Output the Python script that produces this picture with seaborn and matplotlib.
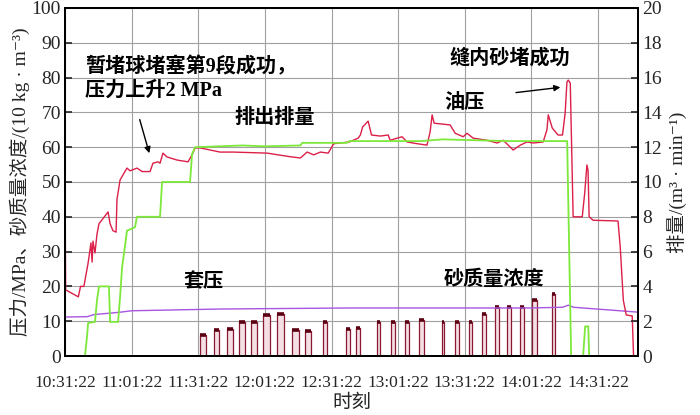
import matplotlib
matplotlib.use('Agg')
import matplotlib.pyplot as plt
import numpy as np
import pandas as pd
import seaborn as sns

# time axis: minutes after 10:31:22
tick_minutes = [0, 30, 60, 90, 120, 150, 180, 210, 240]
tick_labels = ['10:31:22', '11:01:22', '11:31:22', '12:01:22', '12:31:22',
               '13:01:22', '13:31:22', '14:01:22', '14:31:22']

# tubing pressure (油压), MPa
oil_t = [0, 0.3, 6, 7, 8.5, 10.4, 11.7, 12.2, 12.6, 13.5, 14.4, 15.3, 19.4, 20.3, 21.6, 23,
         23.4, 24.8, 27.9, 29.3, 32.4, 34.7, 38.3, 39.6, 41.9, 42.8, 44.1, 45.9, 50.5, 55.4,
         57.2, 58.6, 60.8, 69.8, 75.7, 91, 101, 106, 109, 112, 115, 118.5, 121, 128, 132,
         133, 134, 136.5, 138, 142, 145.5, 146.4, 151.8, 154, 158.6, 163, 164.4, 165.3, 166.2,
         173.4, 175.7, 179.3, 181, 183.8, 190, 194.6, 197.3, 201.8, 205, 208, 210.8, 215.3,
         217, 217.6, 219.4, 222, 224, 225.2, 226, 226.6, 227.5, 228.8, 232.9, 234, 235,
         235.5, 236, 237.8, 249, 250, 251.4, 252.7, 255.4, 256]
oil_p = [50, 19, 17, 20, 20, 26.7, 32.5, 27, 33, 29.6, 35, 38, 41.4, 38, 36, 35.6,
         45, 50.6, 54, 53.2, 54, 53, 53, 55.4, 55.8, 55.4, 58.3, 57.2, 56.3, 55.8,
         57.8, 59.8, 59.8, 58.6, 58.6, 58.3, 57.3, 56.9, 58.6, 57.8, 58.6, 58.3, 61, 61.5, 62.6,
         63.5, 65.8, 67.5, 63.5, 63.2, 63.5, 62, 63, 61.5, 61, 60.6, 64.4, 69.3, 66.9,
         66.4, 64, 63, 64, 62.6, 62, 61.2, 62, 59.2, 60.6, 61.5, 61.2, 61.5,
         65, 69.3, 65.5, 63.5, 63.5, 69.8, 78.7, 79.3, 78.4, 40, 40, 46.8, 54.9,
         53.4, 40, 39, 38.8, 31.3, 16, 11.8, 11.5, 0]

# casing pressure (套压), MPa
casing_t = [0, 10, 13, 20, 25, 30, 70, 128, 209, 224, 226.6, 229, 258]
casing_p = [11.2, 11.3, 11.9, 12.3, 12.6, 13, 13.5, 13.8, 13.8, 14, 14.6, 14, 12.6]

# pump rate (排量), m3/min
rate_t = [9, 9.9, 10.4, 13.5, 14.4, 15.3, 19.8, 20.3, 23.9, 24.8, 25.7, 27, 27.9, 31.5,
          32.4, 42.8, 43.7, 56.3, 57.2, 58.6, 80, 90, 106, 106.8, 127, 128, 160, 170, 200,
          226.1, 227.9, 233.3, 234.2, 235.6, 236]
rate_q = [0, 1.1, 1.9, 1.96, 3.2, 4, 4, 1.96, 1.96, 3.4, 5.1, 6.3, 7.2, 7.4,
          8, 8, 10, 10, 11.6, 12.0, 12.1, 12.05, 12.1, 12.25, 12.25, 12.35, 12.35, 12.45, 12.35,
          12.35, 0, 0, 1.7, 1.7, 0]

# sand concentration pulses (砂质量浓度), 10 kg/m3
sand_start = [60.8, 67.1, 73.0, 78.4, 83.8, 89.2, 95.5, 102.3, 108.1, 116.2, 126.6, 131.1, 140.5,
              146.8, 153.2, 159.5, 169.8, 175.7, 182.0, 187.8, 193.7, 199.1, 205.0, 210.4, 219.4]
sand_end = [63.5, 69.4, 75.7, 81.1, 86.5, 92.3, 98.6, 105.4, 110.8, 118.0, 128.4, 132.9, 141.9,
            148.6, 155.0, 161.7, 170.7, 177.5, 183.3, 189.6, 195.5, 200.9, 206.8, 212.6, 220.7]
sand_peak = [6.0, 7.5, 7.8, 9.8, 9.7, 11.8, 12.0, 7.5, 7.3, 9.8, 7.8, 8.0, 9.8,
             9.8, 9.8, 10.3, 9.8, 9.8, 9.8, 12.0, 14.0, 14.2, 14.2, 16.0, 17.8]

sns.set_theme(style='white')
plt.rcParams['font.family'] = ['Liberation Serif', 'DejaVu Serif', 'Noto Sans CJK SC']
plt.rcParams['axes.unicode_minus'] = False

RED = '#dc1f48'
GREEN = '#7ce83a'
PURPLE = '#a855e0'
SAND = '#8a1830'
SAND_TOP = '#5a0012'

oil = pd.DataFrame({'t': oil_t, 'p': oil_p})
casing = pd.DataFrame({'t': casing_t, 'p': casing_p})
rate = pd.DataFrame({'t': rate_t, 'q': rate_q})

# pulses as closed step outlines
st, sv = [], []
for s, e, p in zip(sand_start, sand_end, sand_peak):
    st += [s, s, e, e]
    sv += [0, p, p, 0]
sand = pd.DataFrame({'t': st, 'c': sv})

fig = plt.figure(figsize=(7, 4.15), dpi=100)
ax = fig.add_axes([65 / 700, 59 / 415, 573 / 700, 348 / 415])
ax2 = ax.twinx()

ax.fill_between(sand['t'], sand['c'], color='#f4dfe5', lw=0)
sns.lineplot(data=sand, x='t', y='c', ax=ax, color=SAND, lw=0.9, sort=False, estimator=None)
ax.hlines(sand_peak, sand_start, sand_end, colors=SAND_TOP, lw=2.6)
sns.lineplot(data=casing, x='t', y='p', ax=ax, color=PURPLE, lw=1.0, sort=False, estimator=None)
sns.lineplot(data=oil, x='t', y='p', ax=ax, color=RED, lw=1.0, sort=False, estimator=None)
sns.lineplot(data=rate, x='t', y='q', ax=ax2, color=GREEN, lw=1.3, sort=False, estimator=None)

ax.set_xlim(0, 258)
ax.set_ylim(0, 100)
ax2.set_ylim(0, 20)
ax.set_xticks(tick_minutes)
ax.set_xticklabels(tick_labels, fontsize=12.5)
ax.set_yticks(np.arange(0, 101, 10))
ax2.set_yticks(np.arange(0, 21, 2))
ax.tick_params(axis='y', labelsize=14, direction='in', length=5, width=1.2, pad=3)
ax.tick_params(axis='x', direction='in', length=5, width=1.2, pad=14)
ax2.tick_params(axis='y', labelsize=14, direction='in', length=5, width=1.2, pad=3)
ax.grid(True, color='#a0a0a0', lw=0.8)
for sp in ax.spines.values():
    sp.set_color('black')
    sp.set_linewidth(1.4)
for sp in ax2.spines.values():
    sp.set_color('black')
    sp.set_linewidth(1.4)

ax.set_xlabel('时刻', fontsize=14, labelpad=2)
ax.set_ylabel('压力/MPa、砂质量浓度/(10 kg · m⁻³)', fontsize=14, labelpad=1)
ax2.set_ylabel('排量/(m³ · min⁻¹)', fontsize=14, labelpad=4)

bold = dict(fontsize=14.5, fontweight='bold', color='black')
ax.text(9, 79.7, '暂堵球堵塞第9段成功，\n压力上升2 MPa', ha='left', va='center',
        linespacing=1.25, **bold)
ax.text(94.6, 68.4, '排出排量', ha='center', va='center', **bold)
ax.text(179.7, 72.7, '油压', ha='center', va='center', **bold)
ax.text(200.5, 85.6, '缝内砂堵成功', ha='center', va='center', **bold)
ax.text(62.6, 21.3, '套压', ha='center', va='center', **bold)
ax.text(193.2, 21.8, '砂质量浓度', ha='center', va='center', **bold)

arrow = dict(arrowstyle='-|>', color='black', lw=1.0, mutation_scale=9)
ax.annotate('', xy=(38.3, 57.5), xytext=(33.3, 68.7), arrowprops=arrow)
ax.annotate('', xy=(224.3, 77.3), xytext=(201.8, 75.6), arrowprops=arrow)

fig.savefig('out.png', dpi=100)
